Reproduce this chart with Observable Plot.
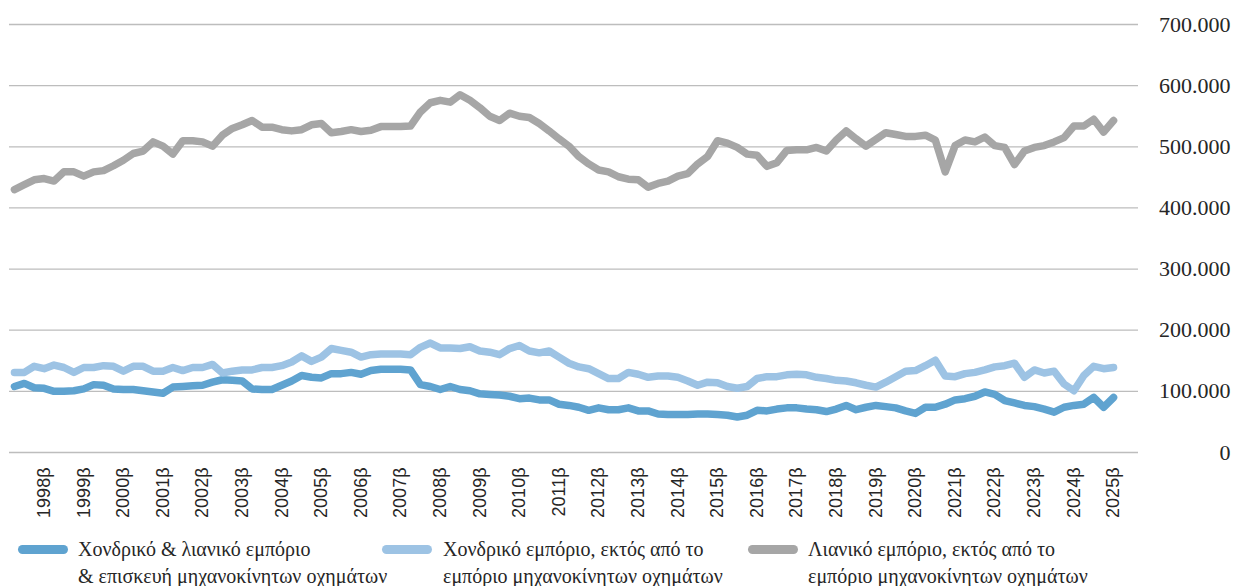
<!DOCTYPE html>
<html>
<head>
<meta charset="utf-8">
<script src="https://cdn.jsdelivr.net/npm/d3@7"></script>
<script src="https://cdn.jsdelivr.net/npm/@observablehq/plot@0.6"></script>
<style>
  body { margin: 0; background: #ffffff; }
  #wrap { position: relative; width: 1236px; height: 586px; overflow: hidden; }
  .leg { position: absolute; font-family: "Liberation Serif", "Times New Roman", serif; font-size: 20px; color: #262626; line-height: 27px; white-space: nowrap; }
  .sw { position: absolute; width: 50px; height: 9px; border-radius: 5px; }
</style>
</head>
<body>
<div id="wrap"></div>
<script>
// ---- Data (values in thousands) ----
const years = d3.range(1997, 2026);
const qLetters = ["α", "β", "γ", "δ"];
// quarterly categories 1997γ … 2025β
const quarters = years.flatMap(y => qLetters.map(q => y + q)).slice(2, 114);

const tickLabels = ["1998β","1999β","2000β","2001β","2002β","2003β","2004β","2005β","2006β","2007β",
  "2008β","2009β","2010β","2011β","2012β","2013β","2014β","2015β","2016β","2017β",
  "2018β","2019β","2020β","2021β","2022β","2023β","2024β","2025β"];

const yTicks = [0, 100000, 200000, 300000, 400000, 500000, 600000, 700000];

const seriesNames = [
  "Χονδρικό & λιανικό εμπόριο & επισκευή μηχανοκίνητων οχημάτων",
  "Χονδρικό εμπόριο, εκτός από το εμπόριο μηχανοκίνητων οχημάτων",
  "Λιανικό εμπόριο, εκτός από το εμπόριο μηχανοκίνητων οχημάτων"
];
const seriesColors = ["#5fa3d0", "#9dc3e4", "#a6a6a6"];

const wholesaleRetail = [108,113,106,105,100,100,101,104,111,110,
  104,103,103,101,99,97,107,108,109,110,
  115,119,118,117,104,103,103,110,117,126,
  123,122,129,129,131,128,134,136,136,136,
  135,111,108,103,108,103,101,96,95,94,
  92,88,89,86,86,79,77,74,69,73,
  70,70,73,68,68,63,62,62,62,63,
  63,62,61,58,61,69,68,71,73,73,
  71,70,67,71,77,70,74,77,75,73,
  68,64,74,74,79,86,88,92,99,95,
  85,81,77,75,71,66,74,77,79,90,
  74,90];

const wholesale = [131,131,141,137,143,139,131,139,139,142,
  141,133,141,141,133,133,139,134,139,139,
  144,130,133,135,135,139,139,142,148,158,
  149,156,170,167,164,156,160,161,161,161,
  160,172,179,171,171,170,173,166,164,160,
  170,175,166,163,166,156,146,140,137,129,
  121,121,131,128,123,125,125,123,117,110,
  115,114,108,105,108,121,124,124,127,128,
  127,123,121,118,117,114,110,107,115,124,
  133,134,142,151,125,124,129,131,135,140,
  142,146,123,135,130,133,112,101,126,141,
  137,139];

const retail = [430,438,446,448,444,459,459,452,459,461,
  469,478,489,493,508,501,488,510,510,508,
  501,519,530,536,543,532,532,528,526,528,
  536,538,523,525,528,525,527,533,533,533,
  534,557,572,576,573,585,576,564,550,543,
  555,550,548,538,526,513,501,484,472,462,
  459,451,447,446,434,440,444,452,456,472,
  484,510,506,499,488,486,468,474,494,495,
  495,499,493,511,526,513,501,512,523,520,
  517,517,519,511,459,502,511,508,516,502,
  499,471,493,499,502,508,515,534,534,545,
  524,543];

const allSeries = [wholesaleRetail, wholesale, retail];
const table = allSeries.flatMap((vals, s) =>
  vals.map((v, i) => ({quarter: quarters[i], value: v * 1000, series: seriesNames[s]})));

const grLocale = d3.formatLocale({decimal: ",", thousands: ".", grouping: [3], currency: ["", "€"]});
const fmt = grLocale.format(",");

const chart = Plot.plot({
  width: 1236,
  height: 528,
  marginLeft: 9,
  marginRight: 98,
  marginTop: 24,
  marginBottom: 76,
  style: {background: "#ffffff", overflow: "visible"},
  x: {type: "point", domain: quarters, padding: 0.5, insetRight: 20},
  y: {domain: [0, 700000]},
  color: {domain: seriesNames, range: seriesColors},
  marks: [
    Plot.ruleY(yTicks, {stroke: "#bdbdbd", strokeWidth: 1.3}),
    Plot.line(table, {
      x: "quarter", y: "value", z: "series", stroke: "series",
      strokeWidth: 7.5, strokeLinejoin: "round", strokeLinecap: "round"
    }),
    Plot.axisX(tickLabels, {
      tickSize: 0, tickPadding: 15, tickRotate: -90,
      fontSize: 18, fontFamily: "Liberation Sans, Arial, sans-serif", fill: "#262626", label: null
    }),
    Plot.axisY(yTicks, {
      anchor: "right", tickSize: 0, tickPadding: 92, textAnchor: "end",
      tickFormat: d => fmt(d),
      fontSize: 22, fontFamily: "Liberation Serif, Times New Roman, serif", fill: "#262626", label: null
    })
  ]
});

const wrap = document.getElementById("wrap");
wrap.appendChild(chart);

// Legend below the chart
const legendItems = [
  {sw: 18, tx: 78, lines: ["Χονδρικό & λιανικό εμπόριο", "& επισκευή μηχανοκίνητων οχημάτων"]},
  {sw: 382, tx: 443, lines: ["Χονδρικό εμπόριο, εκτός από το", "εμπόριο μηχανοκίνητων οχημάτων"]},
  {sw: 748, tx: 808, lines: ["Λιανικό εμπόριο, εκτός από το", "εμπόριο μηχανοκίνητων οχημάτων"]}
];
legendItems.forEach((it, i) => {
  const s = document.createElement("div");
  s.className = "sw";
  s.style.left = it.sw + "px";
  s.style.top = "545px";
  s.style.background = seriesColors[i];
  wrap.appendChild(s);
  const t = document.createElement("div");
  t.className = "leg";
  t.style.left = it.tx + "px";
  t.style.top = "536px";
  t.innerHTML = it.lines.join("<br>");
  wrap.appendChild(t);
});
</script>
</body>
</html>
